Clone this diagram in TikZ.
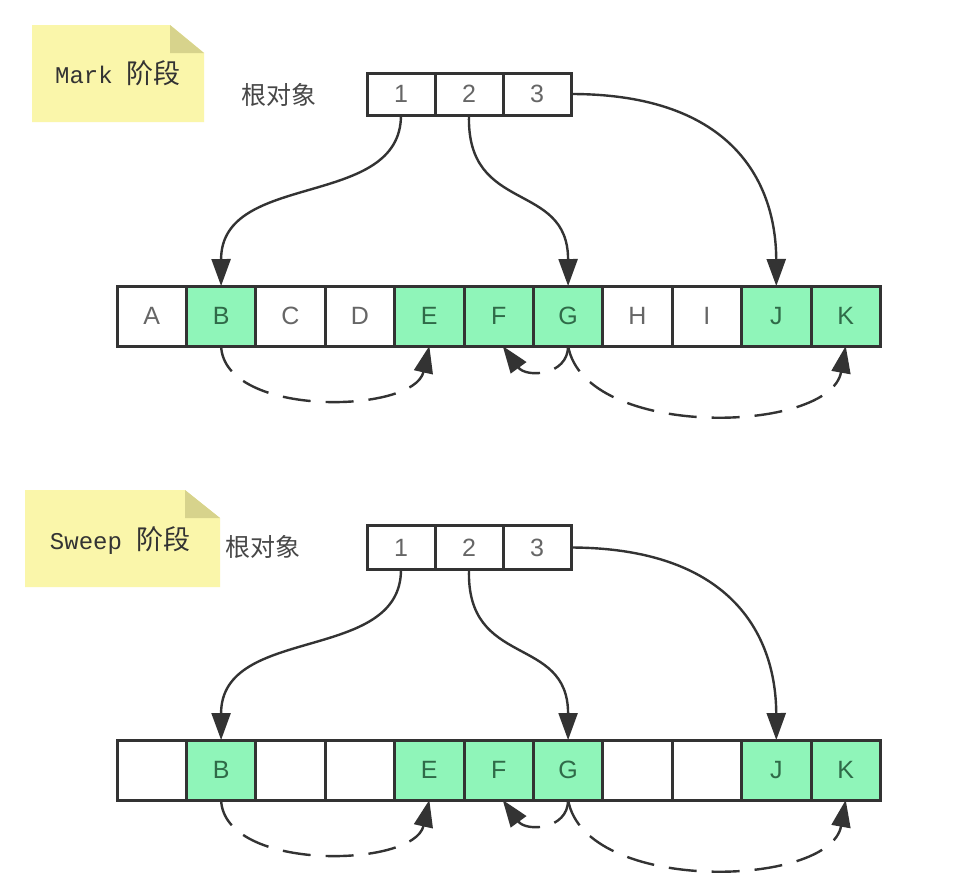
\documentclass[tikz,border=0pt]{standalone}
\usepackage{fontspec}
\setsansfont{Liberation Sans}
\setmonofont{Liberation Mono}
\newfontfamily\cjk{Noto Sans CJK SC}
\usetikzlibrary{arrows.meta}
\definecolor{cellgreen}{HTML}{8FF5B9}
\definecolor{cellline}{HTML}{333333}
\definecolor{notey}{HTML}{FAF6AA}
\definecolor{notefold}{HTML}{D7D38C}
\definecolor{txtgray}{HTML}{666666}
\definecolor{txtgreen}{HTML}{2F6A48}
\begin{document}
\begin{tikzpicture}[x=1pt,y=-1pt,
  cellbox/.style={draw=cellline,line width=3pt,fill=white,minimum width=69.4pt,minimum height=60pt,inner sep=0pt,outer sep=0pt,font=\sffamily\fontsize{25}{25}\selectfont,text=txtgray},
  live/.style={cellbox,fill=cellgreen,text=txtgreen},
  rootbox/.style={draw=cellline,line width=3pt,fill=white,minimum width=68pt,minimum height=42pt,inner sep=0pt,outer sep=0pt,font=\sffamily\fontsize{25}{25}\selectfont,text=txtgray},
  ref/.style={draw=cellline,line width=2.4pt,arrows={-Triangle[length=27pt,width=19pt]}},
  scan/.style={draw=cellline,line width=2.4pt,dash pattern=on 28pt off 15pt,arrows={-Triangle[length=27pt,width=19pt]}},
  notetext/.style={inner sep=0pt,text=black!80},
  rootlabel/.style={inner sep=0pt,font=\cjk\fontsize{25}{25}\selectfont,text=black!72}
]
\useasboundingbox (0,0) rectangle (960,894);
\fill[white] (0,0) rectangle (960,894);

% ---- Mark note
\fill[notey] (32,25) -- (170,25) -- (204,53) -- (204,122) -- (32,122) -- cycle;
\fill[notefold] (170,25) -- (170,53) -- (204,53) -- cycle;
\node[notetext] (marknote) at (118,73) {{\ttfamily\fontsize{24}{24}\selectfont Mark}\hspace{14pt}{\cjk\fontsize{27}{27}\selectfont 阶段}};

% ---- Sweep note
\fill[notey] (25,490) -- (185,490) -- (220,518) -- (220,587) -- (25,587) -- cycle;
\fill[notefold] (185,490) -- (185,518) -- (220,518) -- cycle;
\node[notetext] (sweepnote) at (120,541) {{\ttfamily\fontsize{24}{24}\selectfont Sweep}\hspace{14pt}{\cjk\fontsize{27}{27}\selectfont 阶段}};

% ================= Mark section
\node[rootlabel] (mlabel) at (279,95) {根对象};
\node[rootbox] (mr1) at (401,94) {1};
\node[rootbox] (mr2) at (469,94) {2};
\node[rootbox] (mr3) at (537,94) {3};

\node[cellbox] (mt1)  at (151.7,316) {A};
\node[live]    (mt2)  at (221.1,316) {B};
\node[cellbox] (mt3)  at (290.5,316) {C};
\node[cellbox] (mt4)  at (359.9,316) {D};
\node[live]    (mt5)  at (429.3,316) {E};
\node[live]    (mt6)  at (498.7,316) {F};
\node[live]    (mt7)  at (568.1,316) {G};
\node[cellbox] (mt8)  at (637.5,316) {H};
\node[cellbox] (mt9)  at (706.9,316) {I};
\node[live]    (mt10) at (776.3,316) {J};
\node[live]    (mt11) at (845.7,316) {K};

\draw[ref] (mr1.south) .. controls (401,210) and (221,170) .. (mt2.north);
\draw[ref] (mr2.south) .. controls (466,215) and (568,180) .. (mt7.north);
\draw[ref] (mr3.east) .. controls (735,94) and (776,185) .. (mt10.north);

\draw[scan] (mt2.south) .. controls (224,418) and (414,414) .. (mt5.south);
\draw[scan] (mt7.south) .. controls (568,376) and (526,378) .. ([xshift=4pt]mt6.south);
\draw[scan] (mt7.south) .. controls (585,440) and (830,434) .. (mt11.south);

% ================= Sweep section
\node[rootlabel] (slabel) at (263,547) {根对象};
\node[rootbox,minimum height=44pt] (sr1) at (401,547.5) {1};
\node[rootbox,minimum height=44pt] (sr2) at (469,547.5) {2};
\node[rootbox,minimum height=44pt] (sr3) at (537,547.5) {3};

\begin{scope}[shift={(0,454)}]
\node[cellbox] (st1)  at (151.7,316) {};
\node[live]    (st2)  at (221.1,316) {B};
\node[cellbox] (st3)  at (290.5,316) {};
\node[cellbox] (st4)  at (359.9,316) {};
\node[live]    (st5)  at (429.3,316) {E};
\node[live]    (st6)  at (498.7,316) {F};
\node[live]    (st7)  at (568.1,316) {G};
\node[cellbox] (st8)  at (637.5,316) {};
\node[cellbox] (st9)  at (706.9,316) {};
\node[live]    (st10) at (776.3,316) {J};
\node[live]    (st11) at (845.7,316) {K};

\draw[ref] (sr1.south) .. controls (401,210) and (221,170) .. (st2.north);
\draw[ref] (sr2.south) .. controls (466,215) and (568,180) .. (st7.north);
\draw[ref] (sr3.east) .. controls (735,94) and (776,185) .. (st10.north);

\draw[scan] (st2.south) .. controls (224,418) and (414,414) .. (st5.south);
\draw[scan] (st7.south) .. controls (568,376) and (526,378) .. ([xshift=4pt]st6.south);
\draw[scan] (st7.south) .. controls (585,440) and (830,434) .. (st11.south);
\end{scope}
\end{tikzpicture}
\end{document}
